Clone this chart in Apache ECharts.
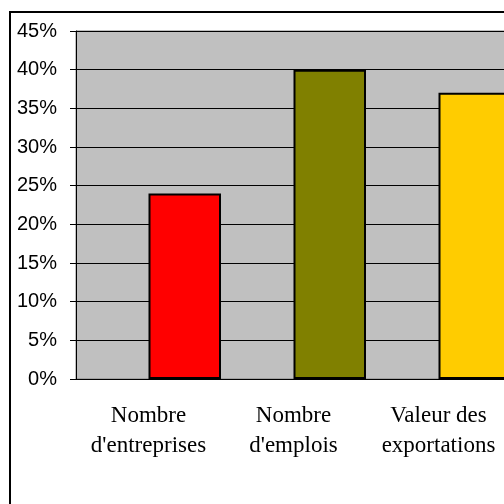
<!DOCTYPE html>
<html>
<head>
<meta charset="utf-8">
<script src="https://cdn.jsdelivr.net/npm/echarts@6/dist/echarts.min.js"></script>
<style>
  html, body { margin: 0; padding: 0; background: #ffffff; overflow: hidden; width: 504px; height: 504px; }
  #chart { width: 530px; height: 504px; }
</style>
</head>
<body>
<div id="chart"></div>
<script>
// catégories (axe x)
const categories = ["Nombre\nd'entreprises", "Nombre\nd'emplois", "Valeur des\nexportations"];
// valeurs en %
const values = [24, 40, 37];
const barColors = ['#ff0000', '#808000', '#ffcc00'];
// série vide (Excel : la barre est décalée à droite du centre)
const emptySeries = [null, null, null];

const myChart = echarts.init(document.getElementById('chart'));

const option = {
  animation: false,
  backgroundColor: '#ffffff',
  graphic: [{
    type: 'rect',
    shape: {x: 10, y: 12, width: 600, height: 600},
    style: {fill: 'none', stroke: '#000000', lineWidth: 2},
    z: 100
  }],
  grid: {
    left: 76,
    top: 31,
    right: 19,   // zone de tracé jusqu'à x=511, coupée par la fenêtre
    bottom: 125,
    show: true,
    backgroundColor: '#c0c0c0',
    borderColor: '#808080',
    borderWidth: 1
  },
  xAxis: {
    type: 'category',
    data: categories,
    axisLine: {show: true, lineStyle: {color: '#000000', width: 1}},
    axisTick: {show: false},
    axisLabel: {
      interval: 0,
      margin: 22,
      color: '#000000',
      fontFamily: 'Liberation Serif, Times New Roman, serif',
      fontSize: 23,
      lineHeight: 30
    }
  },
  yAxis: {
    type: 'value',
    min: 0,
    max: 45,
    interval: 5,
    axisLine: {show: true, lineStyle: {color: '#000000', width: 1}},
    axisTick: {show: true, length: 6, lineStyle: {color: '#000000'}},
    splitLine: {show: true, lineStyle: {color: '#000000', width: 1}},
    axisLabel: {
      formatter: '{value}%',
      margin: 19,
      color: '#000000',
      fontFamily: 'Liberation Sans, Arial, sans-serif',
      fontSize: 20
    }
  },
  series: [
    {
      type: 'bar',
      data: emptySeries,
      barGap: '0%',
      barCategoryGap: '0%'
    },
    {
      type: 'bar',
      data: values.map((v, i) => ({value: v, itemStyle: {color: barColors[i]}})),
      barGap: '0%',
      barCategoryGap: '0%',
      itemStyle: {borderColor: '#000000', borderWidth: 2}
    }
  ]
};

option && myChart.setOption(option);
</script>
</body>
</html>
